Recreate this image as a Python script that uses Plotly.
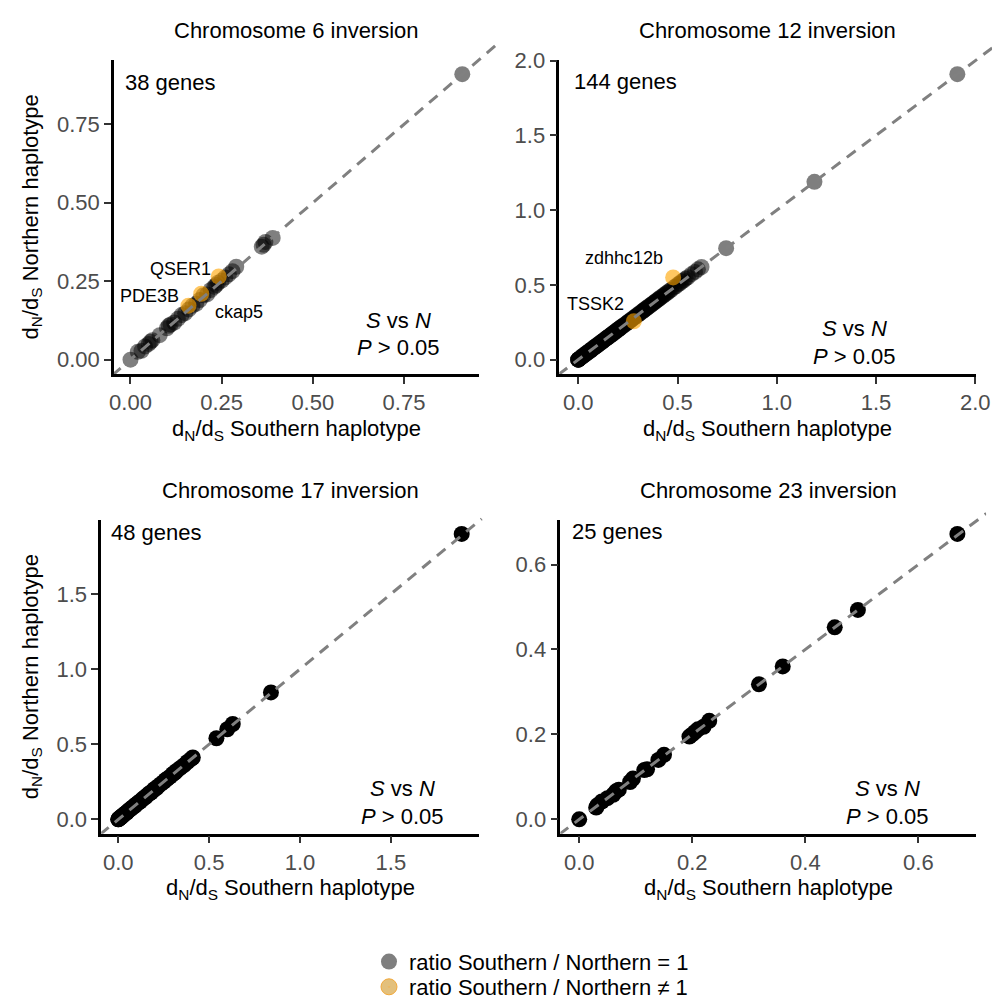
import plotly.graph_objects as go

W, H = 1006, 1008

# ---------------- data ----------------
titles = ["Chromosome 6 inversion", "Chromosome 12 inversion",
          "Chromosome 17 inversion", "Chromosome 23 inversion"]
gene_counts = ["38 genes", "144 genes", "48 genes", "25 genes"]

# Chromosome 6: ratio = 1 (grey) and ratio != 1 (orange)
c6_x = [0.00, 0.02, 0.03, 0.04, 0.05, 0.055, 0.06, 0.08, 0.10, 0.105, 0.11, 0.12,
        0.13, 0.14, 0.15, 0.16, 0.17, 0.18, 0.19, 0.20, 0.21, 0.22, 0.23, 0.235,
        0.24, 0.25, 0.26, 0.27, 0.28, 0.29, 0.36, 0.365, 0.37, 0.39, 0.91]
c6_y = [0.00, 0.025, 0.028, 0.042, 0.05, 0.057, 0.062, 0.078, 0.10, 0.108, 0.112, 0.118,
        0.13, 0.142, 0.148, 0.16, 0.172, 0.178, 0.19, 0.205, 0.208, 0.222, 0.232, 0.238,
        0.245, 0.252, 0.262, 0.272, 0.282, 0.296, 0.36, 0.366, 0.375, 0.388, 0.91]
c6_out_x = [0.159, 0.194, 0.242]
c6_out_y = [0.172, 0.210, 0.265]
c6_out_lab = ["PDE3B", "ckap5", "QSER1"]

# Chromosome 12
c12_x = [0.0, 0.0, 0.0, 0.0, 0.0, 0.0, 0.004, 0.008, 0.011, 0.016,
         0.019, 0.022, 0.026, 0.029, 0.033, 0.036, 0.041, 0.043, 0.047, 0.052,
         0.049, 0.056, 0.061, 0.058, 0.066, 0.071, 0.069, 0.076, 0.081, 0.079,
         0.086, 0.091, 0.089, 0.096, 0.101, 0.099, 0.107, 0.112, 0.108, 0.117,
         0.121, 0.119, 0.126, 0.131, 0.129, 0.136, 0.141, 0.139, 0.147, 0.152,
         0.149, 0.156, 0.161, 0.158, 0.166, 0.171, 0.169, 0.176, 0.181, 0.179,
         0.187, 0.191, 0.189, 0.196, 0.201, 0.199, 0.207, 0.212, 0.209, 0.216,
         0.221, 0.219, 0.226, 0.232, 0.236, 0.241, 0.247, 0.252, 0.256, 0.262,
         0.266, 0.271, 0.277, 0.282, 0.286, 0.291, 0.297, 0.302, 0.306, 0.311,
         0.317, 0.322, 0.326, 0.331, 0.337, 0.342, 0.346, 0.352, 0.356, 0.361,
         0.367, 0.372, 0.376, 0.381, 0.387, 0.392, 0.396, 0.402, 0.407, 0.412,
         0.418, 0.426, 0.431, 0.438, 0.446, 0.452, 0.461, 0.468, 0.483, 0.492,
         0.503, 0.512, 0.521, 0.532, 0.541, 0.552, 0.571, 0.588, 0.603, 0.621,
         0.745, 1.19, 1.91, 0.031, 0.062, 0.093, 0.122, 0.143, 0.172, 0.203,
         0.251, 0.333]
c12_y = [0.0, 0.0, 0.0, 0.0, 0.0, 0.0, 0.005, 0.009, 0.012, 0.015,
         0.021, 0.023, 0.025, 0.031, 0.034, 0.037, 0.040, 0.045, 0.048, 0.051,
         0.050, 0.058, 0.060, 0.059, 0.067, 0.070, 0.071, 0.077, 0.080, 0.081,
         0.087, 0.090, 0.091, 0.097, 0.102, 0.098, 0.108, 0.111, 0.110, 0.118,
         0.122, 0.120, 0.127, 0.130, 0.131, 0.137, 0.140, 0.141, 0.148, 0.151,
         0.150, 0.157, 0.160, 0.159, 0.167, 0.170, 0.171, 0.177, 0.180, 0.181,
         0.188, 0.190, 0.191, 0.197, 0.200, 0.201, 0.208, 0.211, 0.210, 0.217,
         0.222, 0.220, 0.227, 0.231, 0.237, 0.240, 0.248, 0.251, 0.257, 0.261,
         0.267, 0.270, 0.278, 0.281, 0.287, 0.290, 0.298, 0.301, 0.307, 0.310,
         0.318, 0.321, 0.327, 0.330, 0.338, 0.341, 0.347, 0.351, 0.357, 0.360,
         0.368, 0.371, 0.377, 0.380, 0.388, 0.391, 0.397, 0.401, 0.408, 0.411,
         0.419, 0.425, 0.432, 0.437, 0.447, 0.451, 0.462, 0.467, 0.484, 0.491,
         0.504, 0.511, 0.522, 0.531, 0.542, 0.551, 0.572, 0.587, 0.604, 0.620,
         0.746, 1.19, 1.91, 0.032, 0.061, 0.094, 0.121, 0.144, 0.171, 0.204,
         0.250, 0.334]
c12_out_x = [0.28, 0.478]
c12_out_y = [0.257, 0.55]
c12_out_lab = ["TSSK2", "zdhhc12b"]

# Chromosome 17
c17_x = [0.0, 0.0, 0.005, 0.01, 0.015, 0.02, 0.025, 0.03, 0.04, 0.045, 0.05, 0.06,
         0.065, 0.07, 0.08, 0.09, 0.095, 0.10, 0.11, 0.12, 0.13, 0.14, 0.15, 0.16,
         0.17, 0.18, 0.19, 0.20, 0.21, 0.22, 0.235, 0.25, 0.26, 0.27, 0.285, 0.30,
         0.31, 0.32, 0.34, 0.36, 0.38, 0.40, 0.41, 0.54, 0.60, 0.63, 0.84, 1.89]
c17_y = [0.0, 0.0, 0.006, 0.011, 0.014, 0.021, 0.026, 0.031, 0.041, 0.044, 0.052, 0.061,
         0.066, 0.072, 0.081, 0.089, 0.096, 0.101, 0.112, 0.119, 0.131, 0.142, 0.149, 0.161,
         0.172, 0.179, 0.191, 0.202, 0.209, 0.221, 0.236, 0.249, 0.262, 0.271, 0.284, 0.302,
         0.309, 0.322, 0.341, 0.359, 0.382, 0.401, 0.412, 0.54, 0.60, 0.635, 0.845, 1.90]

# Chromosome 23
c23_x = [0.0, 0.03, 0.032, 0.04, 0.05, 0.06, 0.065, 0.07, 0.09, 0.095, 0.115, 0.12, 0.14,
         0.15, 0.195, 0.20, 0.205, 0.21, 0.22, 0.23, 0.318, 0.36, 0.452, 0.493, 0.669]
c23_y = [0.0, 0.028, 0.033, 0.042, 0.05, 0.058, 0.066, 0.07, 0.088, 0.096, 0.116, 0.118, 0.14,
         0.152, 0.195, 0.20, 0.206, 0.212, 0.218, 0.232, 0.318, 0.36, 0.452, 0.493, 0.672]

# 1:1 reference line end points per panel
line_c6 = [-0.05, 1.0]
line_c12 = [-0.1, 2.1]
line_c17 = [-0.1, 2.0]
line_c23 = [-0.035, 0.72]

tick_dtick = [0.25, 0.5, 0.5, 0.2]
tick_fmt = [".2f", ".1f", ".1f", ".1f"]

# ---------------- layout geometry (pixels) ----------------
boxes = [(111, 483, 50, 371), (565, 990, 50, 371), (98, 483, 520, 841), (566, 990, 520, 841)]
ext = [(505, 25), (1006, 25), (490, 510), (1000, 510)]  # extended right / top for the dashed line
gene_pos = [(122, 73), (580, 72), (108, 533), (578, 532)]
stat_pos = [(401, 316), (866, 325), (405, 795), (899, 795)]

grey = "rgba(0,0,0,0.5)"
black = "rgba(0,0,0,1)"
orange = "rgba(255,165,0,0.62)"
FONT = "Liberation Sans, Arial, Helvetica, sans-serif"
FS = 22


def rng(vals):
    lo, hi = min(vals), max(vals)
    pad = 0.05 * (hi - lo)
    return [lo - pad, hi + pad]


panels = [
    dict(x=c6_x, y=c6_y, ox=c6_out_x, oy=c6_out_y, lab=c6_out_lab, col=grey, line=line_c6),
    dict(x=c12_x, y=c12_y, ox=c12_out_x, oy=c12_out_y, lab=c12_out_lab, col=grey, line=line_c12),
    dict(x=c17_x, y=c17_y, ox=[], oy=[], lab=[], col=black, line=line_c17),
    dict(x=c23_x, y=c23_y, ox=[], oy=[], lab=[], col=black, line=line_c23),
]

label_shift = {"PDE3B": (-39, 10), "ckap5": (38, -18), "QSER1": (-38, 8),
               "TSSK2": (-38, 17), "zdhhc12b": (-49, 19)}

fig = go.Figure()
layout = dict(width=W, height=H, margin=dict(l=0, r=0, t=0, b=0),
              paper_bgcolor="white", plot_bgcolor="rgba(0,0,0,0)",
              font=dict(family=FONT, size=FS, color="black"),
              showlegend=True)
annotations = []

for i, p in enumerate(panels):
    k = i + 1
    L, R, T, B = boxes[i]
    xr = rng(p["x"] + p["ox"])
    yr = rng(p["y"] + p["oy"])
    base = dict(showgrid=False, zeroline=False,
                showline=True, linecolor="black", linewidth=2.5,
                ticks="outside", ticklen=7, tickwidth=2.2, tickcolor="#333333",
                tickfont=dict(size=FS, color="#4D4D4D", family=FONT),
                dtick=tick_dtick[i], tick0=0, tickformat=tick_fmt[i])
    ax = dict(base, domain=[L / W, R / W], range=xr, anchor=f"y{k}")
    ay = dict(base, domain=[1 - B / H, 1 - T / H], range=yr, anchor=f"x{k}")
    layout[f"xaxis{k}"] = ax
    layout[f"yaxis{k}"] = ay

    # extended invisible axes for the 1:1 line (so it can run past the panel)
    Re, Te = ext[i]
    xr_e = [xr[0], xr[0] + (Re - L) * (xr[1] - xr[0]) / (R - L)]
    yr_e = [yr[0], yr[0] + (B - Te) * (yr[1] - yr[0]) / (B - T)]
    ke = k + 4
    layout[f"xaxis{ke}"] = dict(domain=[L / W, min(Re, W) / W], range=xr_e, visible=False,
                                anchor=f"y{ke}", fixedrange=True)
    layout[f"yaxis{ke}"] = dict(domain=[1 - B / H, 1 - Te / H], range=yr_e, visible=False,
                                anchor=f"x{ke}", fixedrange=True)

    fig.add_trace(go.Scatter(x=p["x"], y=p["y"], mode="markers", xaxis=f"x{k}", yaxis=f"y{k}",
                             marker=dict(size=16, color=p["col"], line=dict(width=0)),
                             showlegend=False, cliponaxis=False, hoverinfo="skip"))
    if p["ox"]:
        fig.add_trace(go.Scatter(x=p["ox"], y=p["oy"], mode="markers", xaxis=f"x{k}", yaxis=f"y{k}",
                                 marker=dict(size=16, color=orange, line=dict(width=0)),
                                 showlegend=False, cliponaxis=False, hoverinfo="skip"))
        for gx, gy, g in zip(p["ox"], p["oy"], p["lab"]):
            sx, sy = label_shift[g]
            annotations.append(dict(x=gx, y=gy, xref=f"x{k}", yref=f"y{k}", text=g,
                                    showarrow=False, xshift=sx, yshift=sy,
                                    font=dict(size=18, color="black")))
    fig.add_trace(go.Scatter(x=p["line"], y=p["line"], mode="lines", xaxis=f"x{ke}", yaxis=f"y{ke}",
                             line=dict(color="#808080", width=3, dash="11px,8px"),
                             showlegend=False, hoverinfo="skip"))

    cx = (L + R) / 2
    # panel title
    annotations.append(dict(x=cx / W, y=1 - (T - 30) / H, xref="paper", yref="paper",
                            text=titles[i], showarrow=False, font=dict(size=FS),
                            xanchor="center", yanchor="middle"))
    # gene count
    gx, gy = gene_pos[i]
    annotations.append(dict(x=gx / W, y=1 - gy / H, xref="paper", yref="paper",
                            text=gene_counts[i], showarrow=False, font=dict(size=FS),
                            xanchor="left", yanchor="middle", xshift=-2))
    # x axis title
    annotations.append(dict(x=cx / W, y=1 - (B + 57) / H, xref="paper", yref="paper",
                            text="d<sub>N</sub>/d<sub>S</sub> Southern haplotype",
                            showarrow=False, font=dict(size=FS), xanchor="center", yanchor="middle"))
    # stats text
    sx_pos, sy_pos = stat_pos[i]
    annotations.append(dict(x=sx_pos / W, y=1 - sy_pos / H, xref="paper", yref="paper",
                            text="<i>S</i> vs <i>N</i>", showarrow=False, font=dict(size=FS),
                            xanchor="center", yanchor="middle"))
    annotations.append(dict(x=sx_pos / W, y=1 - (sy_pos + 28) / H, xref="paper", yref="paper",
                            text="<i>P</i> > 0.05", showarrow=False, font=dict(size=FS),
                            xanchor="center", yanchor="middle"))

# y axis titles (left column only)
for (L, R, T, B) in [boxes[0], boxes[2]]:
    annotations.append(dict(x=27 / W, y=1 - (T + B) / 2 / H, xref="paper", yref="paper",
                            text="d<sub>N</sub>/d<sub>S</sub> Northern haplotype", textangle=-90,
                            showarrow=False, font=dict(size=FS), xanchor="center", yanchor="middle"))

# legend entries (one legend per row for exact spacing)
fig.add_trace(go.Scatter(x=[None], y=[None], mode="markers", xaxis="x1", yaxis="y1",
                         name="ratio Southern / Northern = 1", legend="legend",
                         marker=dict(size=16, color="#7F7F7F")))
fig.add_trace(go.Scatter(x=[None], y=[None], mode="markers", xaxis="x1", yaxis="y1",
                         name="ratio Southern / Northern ≠ 1", legend="legend2",
                         marker=dict(size=16, color="#E3C07C", symbol="circle-dot",
                                     line=dict(color="#F2A93B", width=1))))

leg_common = dict(x=371 / W, xanchor="left", yanchor="middle",
                  font=dict(size=FS, color="black"), bgcolor="rgba(0,0,0,0)",
                  itemclick=False, itemdoubleclick=False)
layout["legend"] = dict(leg_common, y=1 - 972 / H)
layout["legend2"] = dict(leg_common, y=1 - 998 / H)
layout["annotations"] = annotations
fig.update_layout(**layout)
fig.write_html("out.html")
